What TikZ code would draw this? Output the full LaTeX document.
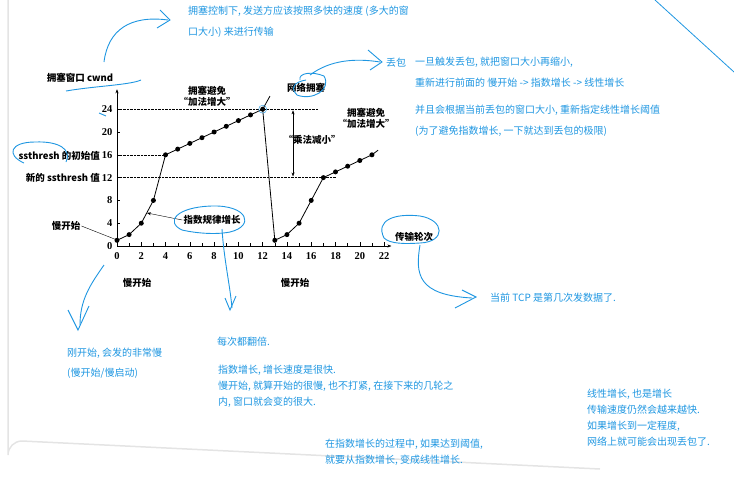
\documentclass[tikz,border=0pt]{standalone}
\usepackage{fontspec}
\setmainfont{Liberation Serif}
\newfontfamily\cjk{Noto Sans CJK SC}
\usetikzlibrary{arrows.meta, positioning, calc}
\definecolor{noteblue}{RGB}{30,150,225}
\definecolor{framegray}{RGB}{228,228,228}

\begin{document}
\begin{tikzpicture}[
    x=1pt, y=-1pt,
    note/.style={text=noteblue, font=\cjk\fontsize{10}{11}\selectfont, anchor=west, inner sep=0pt},
    chartlabel/.style={font=\cjk\fontsize{9.5}{11}\selectfont\bfseries, inner sep=1pt},
    ink/.style={draw=noteblue, line width=0.9pt},
    dot/.style={circle, fill=black, inner sep=0pt, minimum size=5pt}
]
    \useasboundingbox (0,0) rectangle (734,477);
    \draw[framegray, line width=1.5pt] (8,0) -- (8,455) arc[start angle=180, end angle=270, radius=14] -- (600,469);
    \draw[noteblue, line width=0.8pt] (655,0) -- (734,72);

    % chart
    \begin{scope}[shift={(117,246)}, x=12.14pt, y=5.7pt]
        \draw[-{Stealth[length=4pt]}] (0,0) -- (22.6,0);
        \draw[-{Stealth[length=4pt]}] (0,0) -- (0,27.5);
        \foreach \t in {0,2,...,22} {
            \draw (\t,0) -- (\t,0.7);
            \node[font=\fontsize{10.5}{11}\selectfont\bfseries, below=3pt] at (\t,0) {\t};
        }
        \foreach \t in {1,3,...,21} \draw (\t,0) -- (\t,0.5);
        \foreach \v in {0,4,...,24} {
            \draw (0,\v) -- (0.25,\v);
            \node[font=\fontsize{10.5}{11}\selectfont\bfseries, left=1pt] at (0,\v) {\v};
        }
        \draw[densely dotted] (0,24) -- (16.5,24);
        \draw[densely dotted] (0,16) -- (4,16);
        \draw[densely dotted] (0,12) -- (18,12);
        \draw[{Stealth[length=4pt]}-{Stealth[length=4pt]}] (14.5,23.8) -- (14.5,12.2);
        % first round
        \foreach \v [count=\i from 0] in {1,2,4,8,16,17,18,19,20,21,22,23,24}
            \coordinate (a\i) at (\i,\v);
        \draw[thick] (a0) \foreach \i in {1,...,12} { -- (a\i) } -- (12.6,26.3);
        \draw[thick] (a12) -- (13,1);
        % second round
        \foreach \v [count=\i from 13] in {1,2,4,8,12,13,14,15,16}
            \coordinate (b\i) at (\i,\v);
        \draw[thick] (b13) \foreach \i in {14,...,21} { -- (b\i) } -- (21.5,16.8);
        \foreach \i in {0,...,12} \node[dot] at (a\i) {};
        \foreach \i in {13,...,21} \node[dot] at (b\i) {};
        \node[draw=noteblue, circle, minimum size=8pt, inner sep=0pt] at (a12) {};
    \end{scope}

    \node[chartlabel] (cwnd) at (80,78) {拥塞窗口 cwnd};
    \node[chartlabel, align=center] (avoid1) at (207,96) {拥塞避免\\“加法增大”};
    \node[chartlabel] (jam) at (306,88) {网络拥塞};
    \node[chartlabel, align=center] (avoid2) at (366,118) {拥塞避免\\“加法增大”};
    \node[chartlabel] (mult) at (312,140) {“乘法减小”};
    \node[chartlabel, anchor=east] (init) at (101,156) {ssthresh 的初始值};
    \node[chartlabel, anchor=east] (newth) at (101,178) {新的 ssthresh 值};
    \node[chartlabel] (slow0) at (66,226) {慢开始};
    \node[chartlabel] (expo) at (212,220) {指数规律增长};
    \node[chartlabel] (rounds) at (414,237) {传输轮次};
    \node[chartlabel] (slow1) at (137,283) {慢开始};
    \node[chartlabel] (slow2) at (295,283) {慢开始};
    \draw (slow0.east) -- (117,240);
    \draw[-{Stealth[length=4pt]}] (expo.west) -- (147,213);

    % blue ink marks
    \draw[ink] (66,91) .. controls (95,86) and (130,85) .. (141,80);
    \draw[ink] (24,163) .. controls (6,155) and (10,142) .. (35,142) .. controls (60,141) and (72,150) .. (66,162);
    \draw[ink] (104,62) .. controls (108,30) and (130,15) .. (168,20);
    \draw[ink] (160,10) -- (170,20) -- (157,28);
    \draw[ink] (182,230) .. controls (165,222) and (176,207) .. (212,206) .. controls (248,205) and (255,226) .. (230,232) .. controls (215,235) and (195,233) .. (182,230);
    \draw[ink] (222,229) .. controls (224,260) and (230,285) .. (232,308);
    \draw[ink] (225,298) -- (230,310) -- (236,296);
    \draw[ink] (300,80) .. controls (298,73) and (312,71) .. (324,76) .. controls (332,90) and (312,101) .. (297,95) .. controls (290,88) and (294,82) .. (306,80);
    \draw[ink] (310,75) .. controls (330,60) and (355,58) .. (380,62);
    \draw[ink] (368,50) -- (382,62) -- (370,70);
    \draw[ink] (384,238) .. controls (375,220) and (395,213) .. (420,216) .. controls (445,220) and (446,242) .. (420,243) .. controls (405,244) and (390,244) .. (384,238);
    \draw[ink] (420,245) .. controls (415,275) and (418,295) .. (472,298);
    \draw[ink] (462,290) -- (476,297) -- (455,308);
    \draw[ink] (104,265) .. controls (90,285) and (80,300) .. (80,325);
    \draw[ink] (68,310) -- (78,330) -- (89,306);
    \draw[ink] (99,113) -- (106,116);

    % blue notes
    \node[note] (ctrl1) at (188,11) {拥塞控制下, 发送方应该按照多快的速度 (多大的窗};
    \node[note] (ctrl2) at (188,32) {口大小) 来进行传输};
    \node[note] (loss) at (386,63) {丢包};
    \node[note] (loss1) at (415,62) {一旦触发丢包, 就把窗口大小再缩小,};
    \node[note] (loss2) at (415,83) {重新进行前面的 慢开始 -> 指数增长 -> 线性增长};
    \node[note] (loss3) at (415,110) {并且会根据当前丢包的窗口大小, 重新指定线性增长阈值};
    \node[note] (loss4) at (415,131) {(为了避免指数增长, 一下就达到丢包的极限)};
    \node[note] (round) at (490,298) {当前 TCP 是第几次发数据了.};
    \node[note] (start1) at (67,353) {刚开始, 会发的非常慢};
    \node[note] (start2) at (67,373) {(慢开始/慢启动)};
    \node[note] (dbl) at (217,342) {每次都翻倍.};
    \node[note, align=left] (fast) at (218,386) {指数增长, 增长速度是很快.\\[5pt]慢开始, 就算开始的很慢, 也不打紧, 在接下来的几轮之\\[5pt]内, 窗口就会变的很大.};
    \node[note, align=left] (thr) at (325,452) {在指数增长的过程中, 如果达到阈值,\\[5pt]就要从指数增长, 变成线性增长.};
    \node[note, align=left] (lin) at (587,418) {线性增长, 也是增长\\[5pt]传输速度仍然会越来越快.\\[5pt]如果增长到一定程度,\\[5pt]网络上就可能会出现丢包了.};
\end{tikzpicture}
\end{document}
